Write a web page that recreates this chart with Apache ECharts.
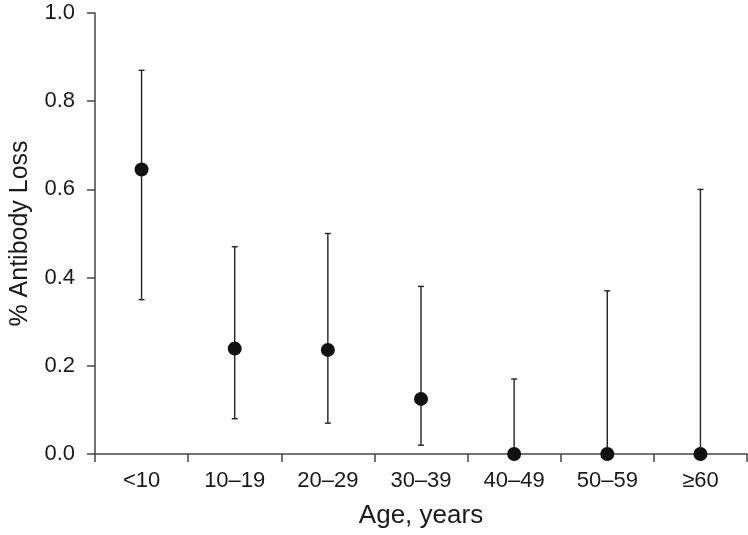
<!DOCTYPE html>
<html>
<head>
<meta charset="utf-8">
<script src="https://cdn.jsdelivr.net/npm/echarts@6/dist/echarts.min.js"></script>
<style>html,body{margin:0;padding:0;background:#fff}#c{width:748px;height:535px}</style>
</head>
<body>
<div id="c"></div>
<script>
var categories = ['<10', '10–19', '20–29', '30–39', '40–49', '50–59', '≥60'];
var values = [0.645, 0.239, 0.236, 0.125, 0, 0, 0];
var lower = [0.35, 0.08, 0.07, 0.02, 0, 0, 0];
var upper = [0.87, 0.47, 0.50, 0.38, 0.17, 0.37, 0.60];
var yTicks = [0, 0.2, 0.4, 0.6, 0.8, 1.0];

var font = '"Liberation Sans", Arial, sans-serif';
var axisColor = '#444';
var chart = echarts.init(document.getElementById('c'), null, {renderer: 'canvas'});
var errData = categories.map(function (c, i) { return [i, lower[i], upper[i]]; });
chart.setOption({
  animation: false,
  grid: {left: 92, right: 1, top: 13, bottom: 81, containLabel: false},
  xAxis: {
    type: 'category',
    data: categories,
    boundaryGap: true,
    name: 'Age, years',
    nameLocation: 'middle',
    nameGap: 49,
    nameTextStyle: {fontFamily: font, fontSize: 26, color: '#1a1a1a'},
    axisLine: {show: true, lineStyle: {color: axisColor, width: 1.5}},
    axisTick: {show: true, inside: false, length: 8, alignWithLabel: false, lineStyle: {color: axisColor, width: 1.5}},
    axisLabel: {fontFamily: font, fontSize: 22, color: '#1a1a1a', margin: 16, interval: 0},
    splitLine: {show: false}
  },
  yAxis: {
    type: 'value',
    min: 0, max: 1, interval: 0.2,
    name: '% Antibody Loss',
    nameLocation: 'middle',
    nameGap: 62,
    nameRotate: 90,
    nameTextStyle: {fontFamily: font, fontSize: 25, color: '#1a1a1a'},
    axisLine: {show: true, lineStyle: {color: axisColor, width: 1.5}},
    axisTick: {show: true, inside: false, length: 8, lineStyle: {color: axisColor, width: 1.5}},
    axisLabel: {fontFamily: font, fontSize: 22, color: '#1a1a1a', margin: 20,
      formatter: function (v) { return yTicks.indexOf(Math.round(v * 10) / 10) >= 0 ? v.toFixed(1) : ''; }},
    splitLine: {show: false}
  },
  series: [
    {
      type: 'custom',
      data: errData,
      z: 3,
      clip: false,
      renderItem: function (params, api) {
        var x = api.value(0);
        var lo = api.coord([x, api.value(1)]);
        var hi = api.coord([x, api.value(2)]);
        var hw = 3;
        var style = {stroke: '#222', lineWidth: 1.4, fill: null};
        return {
          type: 'group',
          children: [
            {type: 'line', shape: {x1: hi[0], y1: hi[1], x2: lo[0], y2: lo[1]}, style: style},
            {type: 'line', shape: {x1: hi[0] - hw, y1: hi[1], x2: hi[0] + hw, y2: hi[1]}, style: style},
            {type: 'line', shape: {x1: lo[0] - hw, y1: lo[1], x2: lo[0] + hw, y2: lo[1]}, style: style}
          ]
        };
      }
    },
    {
      type: 'scatter',
      data: values,
      symbol: 'circle',
      symbolSize: 14,
      z: 4,
      clip: false,
      itemStyle: {color: '#111', opacity: 1}
    }
  ]
});
</script>
</body>
</html>
